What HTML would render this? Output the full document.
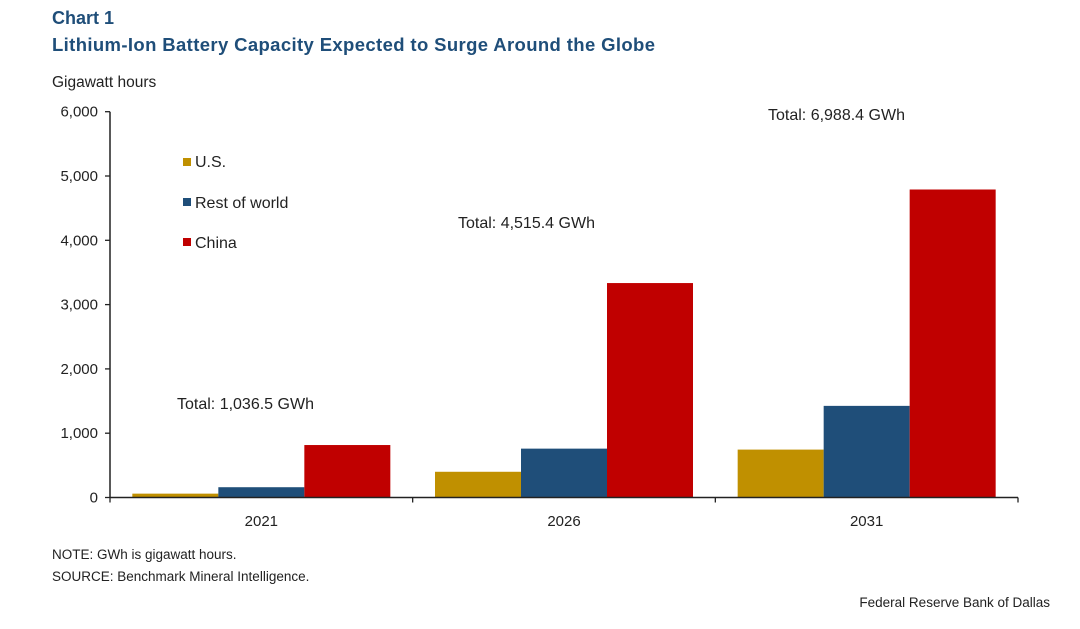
<!DOCTYPE html>
<html><head><meta charset="utf-8"><style>
body{margin:0;background:#fff;font-family:"Liberation Sans",Arial,sans-serif}
svg text{font-family:"Liberation Sans",Arial,sans-serif}
</style></head><body>
<svg width="1080" height="624" viewBox="0 0 1080 624">
<text x="52" y="24" font-size="18" font-weight="bold" fill="#1f4e79">Chart 1</text>
<text x="52" y="51" font-size="18.5" font-weight="bold" fill="#1f4e79" textLength="603">Lithium-Ion Battery Capacity Expected to Surge Around the Globe</text>
<text x="52" y="87" font-size="15.5" fill="#222">Gigawatt hours</text>
<g id="plot"></g>
<g>
<rect x="183" y="158" width="8" height="8" fill="#c09000"/>
<text x="195" y="167" font-size="16" fill="#222">U.S.</text>
<rect x="183" y="198" width="8" height="8" fill="#1f4e79"/>
<text x="195" y="208" font-size="16" fill="#222">Rest of world</text>
<rect x="183" y="238" width="8" height="8" fill="#c00000"/>
<text x="195" y="248" font-size="16" fill="#222">China</text>
</g>
<text x="177" y="409" font-size="16" fill="#222">Total: 1,036.5 GWh</text>
<text x="458" y="228" font-size="16" fill="#222">Total: 4,515.4 GWh</text>
<text x="768" y="120" font-size="16" fill="#222">Total: 6,988.4 GWh</text>
<text x="52" y="559" font-size="13.5" fill="#222">NOTE: GWh is gigawatt hours.</text>
<text x="52" y="581" font-size="13.5" fill="#222">SOURCE: Benchmark Mineral Intelligence.</text>
<text x="1050" y="607" font-size="13.5" fill="#222" text-anchor="end">Federal Reserve Bank of Dallas</text>
</svg>
<script>
const categories = ["2021","2026","2031"];
const usValues = [60, 400, 745];
const rowValues = [160, 760, 1425];
const chinaValues = [816, 3335, 4790];
const yTicks = [0,1000,2000,3000,4000,5000,6000];
const yTickLabels = ["0","1,000","2,000","3,000","4,000","5,000","6,000"];
const NS="http://www.w3.org/2000/svg";
const g=document.getElementById('plot');
const x0=110,x1=1018,y0=497.5,yTop=111.7,yMax=6000;
const y=v=>y0-(v/yMax)*(y0-yTop);
const gw=(x1-x0)/categories.length;
const bw=86;
function mk(t,a){const e=document.createElementNS(NS,t);for(const k in a)e.setAttribute(k,a[k]);g.appendChild(e);return e;}
const series=[[usValues,"#c09000","us"],[rowValues,"#1f4e79","rest-of-world"],[chinaValues,"#c00000","china"]];
categories.forEach((c,i)=>{
  const cx=x0+gw*(i+0.5);
  series.forEach((s,j)=>{
    const r=mk('rect',{x:cx-1.5*bw+j*bw,y:y(s[0][i]),width:bw,height:y0-y(s[0][i]),fill:s[1]});
    
    
  });
  const t=mk('text',{x:cx,y:526,'font-size':15,fill:'#222','text-anchor':'middle'});
  t.textContent=c;
  
  
});
for(let i=0;i<=categories.length;i++){
  const l=mk('line',{x1:x0+gw*i,x2:x0+gw*i,y1:y0,y2:y0+5,stroke:'#222','stroke-width':1.3});
  
  
}
yTicks.forEach((v,i)=>{
  const l=mk('line',{x1:x0-5,x2:x0,y1:y(v),y2:y(v),stroke:'#222','stroke-width':1.3});
  
  
  const t=mk('text',{x:x0-12,y:y(v)+5,'font-size':15,fill:'#222','text-anchor':'end'});
  t.textContent=yTickLabels[i];
  
  
});
const ya=mk('line',{x1:x0,x2:x0,y1:yTop,y2:y0,stroke:'#222','stroke-width':1.5});


const xa=mk('line',{x1:x0,x2:x1,y1:y0,y2:y0,stroke:'#222','stroke-width':1.5});


</script>
</body></html>
